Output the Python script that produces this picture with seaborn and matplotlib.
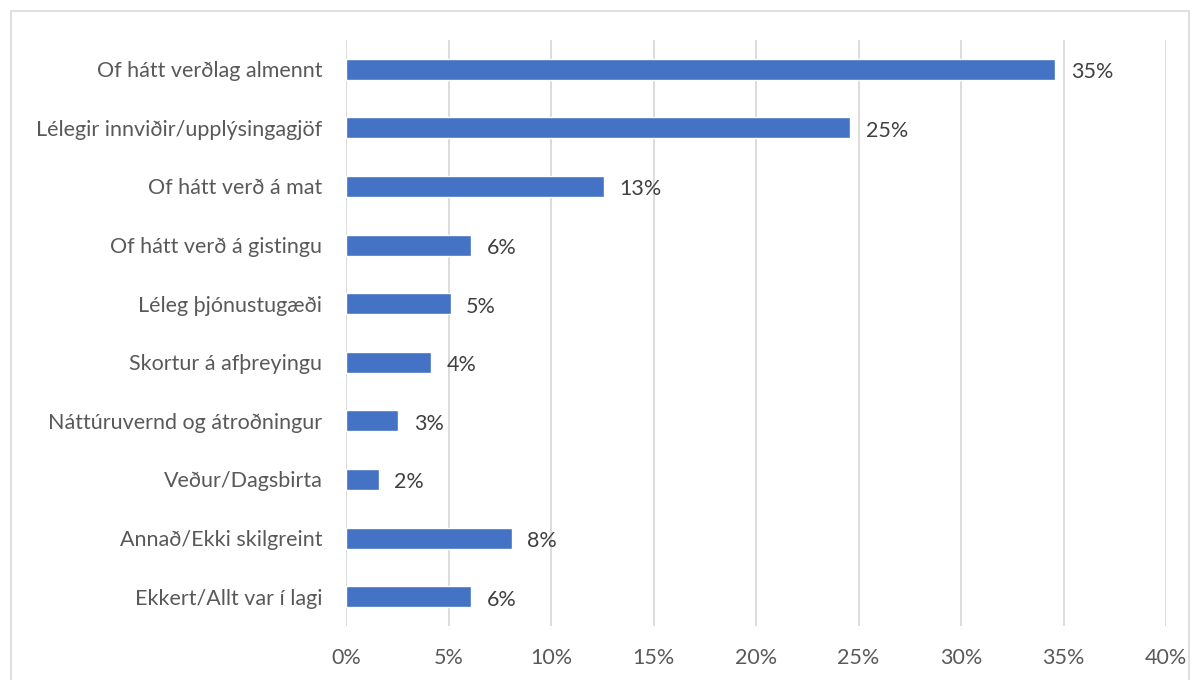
import numpy as np
import pandas as pd
import matplotlib
matplotlib.use("Agg")
import matplotlib.pyplot as plt
import seaborn as sns
from matplotlib.patches import Rectangle
from matplotlib.ticker import FuncFormatter

# gögn
categories = [
    "Of hátt verðlag almennt",
    "Lélegir innviðir/upplýsingagjöf",
    "Of hátt verð á mat",
    "Of hátt verð á gistingu",
    "Léleg þjónustugæði",
    "Skortur á afþreyingu",
    "Náttúruvernd og átroðningur",
    "Veður/Dagsbirta",
    "Annað/Ekki skilgreint",
    "Ekkert/Allt var í lagi",
]
values = [34.6, 24.6, 12.6, 6.1, 5.1, 4.15, 2.55, 1.6, 8.1, 6.1]
labels = ["35%", "25%", "13%", "6%", "5%", "4%", "3%", "2%", "8%", "6%"]
x_ticks = [0, 5, 10, 15, 20, 25, 30, 35, 40]

df = pd.DataFrame({"category": categories, "value": values})

sns.set_theme(style="white")
plt.rcParams["font.family"] = ["Lato", "DejaVu Sans"]
text_color = "#595959"

fig = plt.figure(figsize=(12, 6.8), dpi=100)
ax = fig.add_axes([346 / 1200, 1 - 626 / 680, 820 / 1200, 586 / 680])

sns.barplot(data=df, x="value", y="category", color="#4472C4", width=0.36,
            saturation=1, ax=ax, zorder=3)

for i, (v, lab) in enumerate(zip(values, labels)):
    ax.text(v + 0.75, i + 0.05, lab, va="center", ha="left", fontsize=15.5, color="#404040")

ax.set_xlim(0, 40)
ax.set_xticks(x_ticks)
ax.xaxis.set_major_formatter(FuncFormatter(lambda x, p: f"{x:.0f}%"))
ax.grid(axis="x", color="#D9D9D9", linewidth=1.3, zorder=0)
ax.set_xlabel("")
ax.set_ylabel("")
for s in ax.spines.values():
    s.set_visible(False)
ax.tick_params(axis="both", length=0, labelsize=15.5, labelcolor=text_color)
ax.tick_params(axis="x", pad=16)
ax.tick_params(axis="y", pad=17)

# ramminn utan um myndina
fig.patches.append(Rectangle((11 / 1200, -0.05), 1178 / 1200, 1 - 11 / 680 + 0.05,
                             transform=fig.transFigure, fill=False,
                             edgecolor="#D9D9D9", linewidth=1.2))

fig.savefig("out.png", dpi=100)
